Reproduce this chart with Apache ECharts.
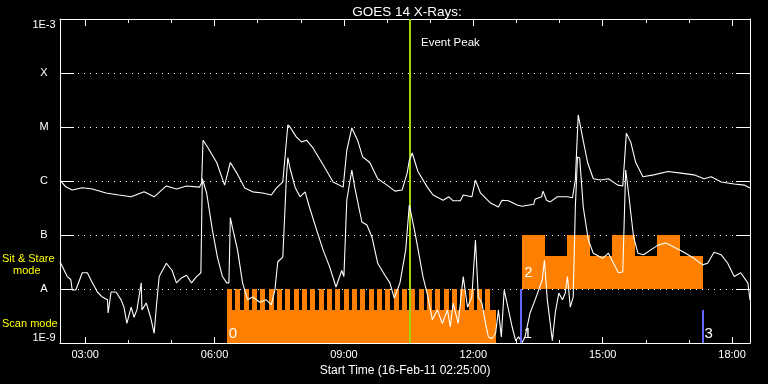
<!DOCTYPE html>
<html><head><meta charset="utf-8">
<script src="https://cdn.jsdelivr.net/npm/echarts@6/dist/echarts.min.js"></script>
<style>html,body{margin:0;padding:0;background:#000;}#c{width:768px;height:384px;}</style>
</head><body><div id="c"></div>
<script>
// ---------------- data ----------------
const titleText = 'GOES 14 X-Rays:';
const xAxisName = 'Start Time (16-Feb-11 02:25:00)';
const timeStart = '02:25';
const timeEnd = '18:25';
const majorTickLabels = ['03:00','06:00','09:00','12:00','15:00','18:00'];
const hourTicks = ['03:00','04:00','05:00','06:00','07:00','08:00','09:00','10:00','11:00','12:00','13:00','14:00','15:00','16:00','17:00','18:00'];
const yTickValues = [1e-9,1e-8,1e-7,1e-6,1e-5,1e-4,1e-3];
const yTickLabels = ['1E-9','A','B','C','M','X','1E-3'];

// long channel (upper curve)
const longTimes = ['02:25','02:33','02:42','02:56','03:10','03:29','03:47','04:04','04:22','04:36','04:53','05:07','05:21','05:39','05:42','05:44','05:50','06:03','06:14','06:22','06:31','06:42','06:53','07:07','07:19','07:26','07:35','07:42','07:45','07:54','08:01','08:08','08:17','08:31','08:45','08:59','09:04','09:11','09:19','09:26','09:36','09:47','10:00','10:11','10:21','10:28','10:31','10:35','10:43','10:56','11:04','11:18','11:26','11:32','11:42','11:46','11:58','12:03','12:10','12:24','12:35','12:40','12:49','13:01','13:08','13:24','13:26','13:35','13:37','13:42','13:47','13:57','14:11','14:18','14:22','14:26','14:32','14:39','14:47','14:57','15:08','15:21','15:28','15:33','15:39','15:46','15:56','16:11','16:31','16:49','17:07','17:21','17:31','17:45','18:03','18:17','18:25'];
const longFlux = [1.04e-6,7.8e-7,6.8e-7,7.5e-7,7.1e-7,6.0e-7,5.5e-7,5.1e-7,6.3e-7,5.1e-7,8.1e-7,7.1e-7,8.1e-7,7.7e-7,9.2e-7,5.7e-6,4.3e-6,2.2e-6,8.4e-7,2.2e-6,1.4e-6,7.4e-7,6.3e-7,6.0e-7,5.5e-7,7.4e-7,9.6e-7,1.1e-5,1.0e-5,6.5e-6,5.3e-6,5.7e-6,4.1e-6,2.0e-6,9.6e-7,7.7e-7,3.7e-6,9.6e-6,5.7e-6,2.8e-6,2.2e-6,1.1e-6,8.4e-7,6.5e-7,6.8e-7,1.4e-6,2.4e-6,3.3e-6,1.5e-6,7.7e-7,5.5e-7,4.4e-7,5.1e-7,4.3e-7,4.3e-7,5.5e-7,5.1e-7,1.04e-6,6.0e-7,3.9e-7,3.3e-7,4.4e-7,4.3e-7,3.6e-7,3.4e-7,3.7e-7,4.6e-7,5.1e-7,6.5e-7,4.4e-7,4.1e-7,5.1e-7,5.1e-7,4.9e-7,1.04e-6,1.67e-5,6.5e-6,2.2e-6,1.1e-6,1.04e-6,1.1e-6,8.4e-7,8.1e-7,7.7e-6,5.3e-6,2.2e-6,1.2e-6,1.3e-6,1.5e-6,1.4e-6,1.3e-6,1.1e-6,1.2e-6,9.6e-7,8.8e-7,8.4e-7,7.4e-7];

// short channel (lower curve)
const shortTimes = ['02:25','02:31','02:35','02:40','02:42','02:47','02:56','03:03','03:10','03:17','03:24','03:31','03:32','03:36','03:43','03:50','03:54','03:58','04:04','04:08','04:12','04:18','04:19','04:25','04:31','04:36','04:39','04:43','04:53','05:01','05:07','05:14','05:21','05:28','05:35','05:41','05:43','05:49','05:57','06:04','06:11','06:17','06:20','06:22','06:25','06:32','06:39','06:46','06:53','07:03','07:12','07:19','07:24','07:28','07:35','07:40','07:42','07:45','07:52','07:59','08:06','08:12','08:22','08:31','08:40','08:49','08:57','09:00','09:04','09:11','09:15','09:25','09:32','09:39','09:47','09:57','10:04','10:10','10:18','10:26','10:31','10:33','10:40','10:50','10:57','11:03','11:10','11:17','11:24','11:28','11:32','11:39','11:46','11:52','11:58','12:03','12:07','12:12','12:17','12:21','12:26','12:31','12:35','12:39','12:43','12:49','12:54','12:59','13:03','13:08','13:12','13:19','13:26','13:31','13:36','13:39','13:43','13:50','13:54','13:59','14:04','14:08','14:11','14:15','14:19','14:22','14:25','14:28','14:33','14:40','14:47','15:00','15:08','15:15','15:22','15:28','15:32','15:36','15:43','15:49','15:57','16:07','16:17','16:28','16:39','16:53','17:07','17:19','17:26','17:35','17:45','17:54','18:03','18:12','18:22','18:25'];
const shortFlux = [3.2e-8,2.2e-8,1.7e-8,1.5e-8,9.6e-9,9.6e-9,2.0e-8,2.0e-8,1.3e-8,8.8e-9,7.1e-9,6.3e-9,3.6e-9,8.8e-9,8.8e-9,6.3e-9,4.6e-9,2.3e-9,4.6e-9,3.0e-9,4.1e-9,1.3e-8,4.1e-9,5.5e-9,3.0e-9,1.5e-9,4.6e-9,1.7e-8,3.0e-8,2.2e-8,1.3e-8,1.6e-8,1.8e-8,1.3e-8,1.7e-8,2.0e-8,1.1e-6,6.0e-7,1.24e-7,3.9e-8,1.7e-8,1.3e-8,1.3e-8,2.1e-7,1.35e-7,5.3e-8,1.3e-8,6.3e-9,7.1e-9,5.7e-9,6.3e-9,5.1e-9,9.6e-9,3.2e-8,3.9e-8,1.19e-6,2.7e-6,1.74e-6,7.7e-7,5.1e-7,6.3e-7,3.3e-7,1.24e-7,5.3e-8,2.6e-8,1.09e-8,2.2e-8,1.7e-8,4.45e-7,1.6e-6,7.7e-7,1.74e-7,1.53e-7,9.2e-8,3.0e-8,1.8e-8,1.3e-8,6.8e-9,1.3e-8,5.3e-8,3.6e-7,3.9e-7,9.2e-8,1.7e-8,7.1e-9,2.7e-9,4.1e-9,2.3e-9,4.1e-9,2.0e-9,5.5e-9,2.3e-9,1.7e-8,4.6e-9,7.1e-9,8.1e-8,7.1e-9,5.5e-9,2.3e-9,1.3e-9,1.2e-9,1.5e-9,4.1e-9,1.3e-9,9.6e-9,4.1e-9,2.0e-9,1.1e-9,1.3e-9,1.02e-9,1.3e-9,3.6e-9,6.3e-9,9.6e-9,1.5e-8,3.4e-8,6.3e-9,1.1e-9,3.6e-9,8.4e-9,6.3e-9,8.4e-9,1.7e-8,4.6e-9,7.1e-9,3.3e-7,2.78e-6,2.67e-6,3.3e-7,8.1e-8,4.6e-8,3.7e-8,4.6e-8,3.0e-8,2.0e-8,2.06e-8,1.6e-6,6.0e-7,9.2e-8,4.6e-8,4.3e-8,5.3e-8,6.5e-8,7.1e-8,6.0e-8,4.8e-8,3.7e-8,2.8e-8,3.0e-8,4.8e-8,4.3e-8,3.0e-8,1.7e-8,2.0e-8,1.3e-8,6.3e-9];

// scan mode (0)
const scanStart = '06:17:18';
const scanEnd = '12:32';
const scanBaseTop = 4.1e-9;
const scanToothTop = 1e-8;
const scanToothMinutes = 7.2;
const scanToothStarts = ['06:17:18','06:28:53','06:40:29','06:52:04','07:03:40','07:15:15','07:26:50','07:38:26','07:50:01','08:01:37','08:13:12','08:24:47','08:36:23','08:47:58','08:59:34','09:11:09','09:22:44','09:34:20','09:45:55','09:57:31','10:09:06','10:20:41','10:32:17','10:43:52','10:55:28','11:07:03','11:18:38','11:30:14','11:41:49','11:53:25','12:05:00','12:16:35'];

// sit & stare mode (2)
const stareStarts = ['13:08','13:40','14:11','14:42','15:13','15:45','16:16','16:48'];
const stareEnd = '17:19';
const stareTops = [1e-7,4.1e-8,1e-7,4.1e-8,1e-7,4.1e-8,1e-7,4.1e-8];
const stareBase = 1e-8;

// blue markers
const markerTimes = ['13:07','17:19'];
const markerTops = [1e-8, 4.1e-9];

// mode numbers
const modeLabelText = ['0','1','2','3'];
const modeLabelTimes = ['06:17','13:07','13:08','17:19'];
const modeLabelFlux = [1.5e-9, 1.5e-9, 2.0e-8, 1.5e-9];

const eventPeakTime = '10:32';
const eventPeakText = 'Event Peak';
const yMin = 1e-9, yMax = 1e-3;

// ---------------- helpers ----------------
function toMin(s){ const p = s.split(':').map(Number); return p[0]*60 + p[1] + (p[2]||0)/60; }
const FONT = 'Liberation Sans';
const ORANGE = '#ff8000';
const BLUE = '#6464ff';
const GREEN = '#a2d20e';

const scanRects = [[toMin(scanStart), toMin(scanEnd), scanBaseTop, yMin]]
  .concat(scanToothStarts.map(t => [toMin(t), toMin(t) + scanToothMinutes, scanToothTop, yMin]));
const stareRects = stareStarts.map((t, i) => [toMin(t), i < stareStarts.length - 1 ? toMin(stareStarts[i+1]) : toMin(stareEnd), stareTops[i], stareBase]);

function rectItem(params, api){
  const p0 = api.coord([api.value(0), api.value(2)]);
  const p1 = api.coord([api.value(1), api.value(3)]);
  const x0 = Math.round(p0[0]), x1 = Math.round(p1[0]);
  const y0 = Math.round(p0[1]), y1 = Math.round(p1[1]);
  return {type:'rect', shape:{x:x0, y:y0, width:x1-x0, height:y1-y0}, style:{fill:ORANGE}};
}

const chart = echarts.init(document.getElementById('c'), null, {renderer:'canvas'});
const axisCommon = {type:'value', min: toMin(timeStart), max: toMin(timeEnd)};
const majorVals = majorTickLabels.map(toMin);
const hourVals = hourTicks.map(toMin);

chart.setOption({
  backgroundColor:'#000',
  animation:false,
  textStyle:{fontFamily:FONT},
  title:{text:titleText, left:402, top:0, textAlign:'center',
    textStyle:{color:'#fff', fontSize:13.5, fontWeight:'normal', fontFamily:FONT}},
  grid:{left:60, top:19, width:690, height:324, containLabel:false},
  graphic:[
    {type:'text', left:2, top:253, style:{text:'Sit & Stare', fill:'#ffff00', font:'11px "Liberation Sans"'}},
    {type:'text', left:13, top:265, style:{text:'mode', fill:'#ffff00', font:'11px "Liberation Sans"'}},
    {type:'text', left:2, top:318, style:{text:'Scan mode', fill:'#ffff00', font:'11px "Liberation Sans"'}}
  ],
  xAxis:[
    Object.assign({}, axisCommon, {position:'bottom',
      axisLine:{show:true, lineStyle:{color:'#fff', width:1}},
      axisTick:{show:true, inside:true, length:6, customValues:majorVals, lineStyle:{color:'#fff'}},
      axisLabel:{show:true, customValues:majorVals, margin:6, color:'#fff', fontSize:11, fontFamily:FONT,
        formatter:v => { const i = majorVals.findIndex(m => Math.abs(m - v) < 0.01); return i >= 0 ? majorTickLabels[i] : ''; }},
      splitLine:{show:false},
      name:xAxisName, nameLocation:'middle', nameGap:18,
      nameTextStyle:{color:'#fff', fontSize:12, fontFamily:FONT}}),
    Object.assign({}, axisCommon, {position:'bottom',
      axisLine:{show:false}, axisLabel:{show:false}, splitLine:{show:false},
      axisTick:{show:true, inside:true, length:3, customValues:hourVals, lineStyle:{color:'#fff'}}}),
    Object.assign({}, axisCommon, {position:'top',
      axisLine:{show:true, lineStyle:{color:'#fff', width:1}}, axisLabel:{show:false}, splitLine:{show:false},
      axisTick:{show:true, inside:true, length:7, customValues:majorVals, lineStyle:{color:'#fff'}}}),
    Object.assign({}, axisCommon, {position:'top',
      axisLine:{show:false}, axisLabel:{show:false}, splitLine:{show:false},
      axisTick:{show:true, inside:true, length:4, customValues:hourVals, lineStyle:{color:'#fff'}}})
  ],
  yAxis:[
    {type:'log', logBase:10, min:yMin, max:yMax, position:'left',
      axisLine:{show:true, lineStyle:{color:'#fff', width:1}},
      axisTick:{show:true, inside:true, length:14, customValues:yTickValues, lineStyle:{color:'#fff'}},
      axisLabel:{show:true, customValues:yTickValues, align:'center', margin:16, color:'#fff', fontSize:11, fontFamily:FONT,
        verticalAlignMaxLabel:'top', verticalAlignMinLabel:'bottom',
        formatter:v => { const i = yTickValues.findIndex(m => Math.abs(Math.log10(m) - Math.log10(v)) < 0.01); return i >= 0 ? yTickLabels[i] : ''; }},
      splitLine:{show:true, lineStyle:{color:'#fff', width:1, type:[1,5]}}},
    {type:'log', logBase:10, min:yMin, max:yMax, position:'right',
      axisLine:{show:true, lineStyle:{color:'#fff', width:1}},
      axisTick:{show:true, inside:true, length:14, customValues:yTickValues, lineStyle:{color:'#fff'}},
      axisLabel:{show:false}, splitLine:{show:false}}
  ],
  series:[
    {type:'custom', name:'scan', xAxisIndex:0, yAxisIndex:0, z:1, silent:true, clip:true,
      encode:{x:[0,1], y:[2,3]}, data:scanRects, renderItem:rectItem},
    {type:'custom', name:'stare', xAxisIndex:0, yAxisIndex:0, z:1, silent:true, clip:true,
      encode:{x:[0,1], y:[2,3]}, data:stareRects, renderItem:rectItem},
    {type:'custom', name:'peak', xAxisIndex:0, yAxisIndex:0, z:2, silent:true,
      encode:{x:0}, data:[[toMin(eventPeakTime)]],
      renderItem:(params, api) => {
        const t = api.value(0);
        const a = api.coord([t, yMax]), b = api.coord([t, yMin]);
        const x = Math.round(a[0]);
        return {type:'group', children:[
          {type:'line', shape:{x1:x, y1:a[1], x2:x, y2:b[1]}, style:{stroke:GREEN, lineWidth:2}},
          {type:'text', style:{text:eventPeakText, x:x + 11, y:a[1] + 24, fill:'#fff', font:'11.5px "Liberation Sans"', align:'left', verticalAlign:'middle'}}
        ]};
      }},
    {type:'line', name:'long', xAxisIndex:0, yAxisIndex:0, z:5, silent:true, symbol:'none', showSymbol:false,
      lineStyle:{color:'#fff', width:1.1}, data:longTimes.map((t,i) => [toMin(t), longFlux[i]])},
    {type:'line', name:'short', xAxisIndex:0, yAxisIndex:0, z:5, silent:true, symbol:'none', showSymbol:false,
      lineStyle:{color:'#fff', width:1.1}, data:shortTimes.map((t,i) => [toMin(t), shortFlux[i]])},
    {type:'custom', name:'markers', xAxisIndex:0, yAxisIndex:0, z:6, silent:true,
      encode:{x:0, y:1}, data:markerTimes.map((t,i) => [toMin(t), markerTops[i]]),
      renderItem:(params, api) => {
        const a = api.coord([api.value(0), api.value(1)]), b = api.coord([api.value(0), yMin]);
        const x = Math.round(a[0]);
        return {type:'line', shape:{x1:x, y1:a[1], x2:x, y2:b[1]}, style:{stroke:BLUE, lineWidth:2}};
      }},
    {type:'custom', name:'modeNumbers', xAxisIndex:0, yAxisIndex:0, z:7, silent:true,
      encode:{x:0, y:1}, data:modeLabelTimes.map((t,i) => [toMin(t), modeLabelFlux[i]]),
      renderItem:(params, api) => {
        const p = api.coord([api.value(0), api.value(1)]);
        return {type:'text', style:{text:modeLabelText[params.dataIndex], x:p[0] + 2, y:p[1], fill:'#fff', font:'15px "Liberation Sans"', align:'left', verticalAlign:'middle'}};
      }}
  ]
});
</script></body></html>
